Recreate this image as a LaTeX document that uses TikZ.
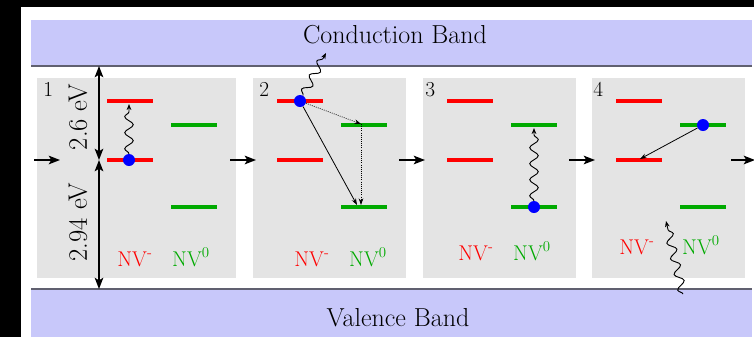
\documentclass[tikz,border=0pt]{standalone}
\usetikzlibrary{arrows.meta,decorations.pathmorphing}
\definecolor{bandc}{RGB}{200,200,250}
\definecolor{panelc}{RGB}{228,228,228}
\definecolor{lvgreen}{RGB}{0,170,0}
\definecolor{bandline}{RGB}{96,96,112}
\begin{document}
\begin{tikzpicture}[x=0.75pt,y=-0.75pt,
  redlvl/.style={fill=red,draw=none,minimum width=34.5pt,minimum height=2.3pt,inner sep=0pt,outer sep=0pt},
  grnlvl/.style={redlvl,fill=lvgreen},
  electron/.style={circle,fill=blue,inner sep=0pt,minimum size=9pt},
  flow/.style={-{Stealth[length=8.5pt,width=6.5pt,inset=2pt]},line width=1.1pt},
  gaparrow/.style={{Stealth[length=8.5pt,width=6.5pt,inset=2pt]}-{Stealth[length=8.5pt,width=6.5pt,inset=2pt]},line width=1.1pt},
  photon/.style={decorate,decoration={snake,amplitude=3.2pt,segment length=12pt,post length=4pt},-{Stealth[length=4.5pt,width=3.5pt]},line width=0.7pt},
  hop/.style={-{Stealth[length=5pt,width=3.5pt]},line width=0.6pt},
  dhop/.style={hop,densely dotted},
  bandtext/.style={font=\fontsize{19.5}{22}\selectfont,anchor=base},
  evtext/.style={font=\fontsize{20}{22}\selectfont,rotate=90},
  numtext/.style={font=\fontsize{16}{18}\selectfont,anchor=base west,inner sep=0pt},
  nvtext/.style={font=\fontsize{16}{18}\selectfont,anchor=base,inner sep=0pt},
  panel/.style={fill=panelc}
]
% background
\fill[black] (0,0) rectangle (754,337);
\fill[white] (21,7) rectangle (754,337);
\useasboundingbox (0,0) rectangle (754,337);

% bands
\fill[bandc] (31,20) rectangle (752,66);
\draw[bandline,line width=1.2pt] (31,66) -- (752,66);
\fill[bandc] (31,289) rectangle (752,337);
\draw[bandline,line width=1.2pt] (31,289) -- (752,289);
\node[bandtext] (cb) at (395,43) {Conduction Band};
\node[bandtext] (vb) at (398,326) {Valence Band};

% panels
\fill[panel] (37,78) rectangle (236,278);
\fill[panel] (253,78) rectangle (406,278);
\fill[panel] (423,78) rectangle (576,278);
\fill[panel] (592,78) rectangle (745,278);

% panel numbers
\node[numtext] (n1) at (43,96) {1};
\node[numtext] (n2) at (259,96) {2};
\node[numtext] (n3) at (425,96) {3};
\node[numtext] (n4) at (593,96) {4};

% energy levels
\node[redlvl] (r1u) at (130,101) {};
\node[redlvl] (r1l) at (130,160) {};
\node[grnlvl] (g1u) at (194,125) {};
\node[grnlvl] (g1l) at (194,207) {};
\node[redlvl] (r2u) at (300,101) {};
\node[redlvl] (r2l) at (300,160) {};
\node[grnlvl] (g2u) at (364,125) {};
\node[grnlvl] (g2l) at (364,207) {};
\node[redlvl] (r3u) at (470,101) {};
\node[redlvl] (r3l) at (470,160) {};
\node[grnlvl] (g3u) at (534,125) {};
\node[grnlvl] (g3l) at (534,207) {};
\node[redlvl] (r4u) at (639,101) {};
\node[redlvl] (r4l) at (639,160) {};
\node[grnlvl] (g4u) at (703,125) {};
\node[grnlvl] (g4l) at (703,207) {};

% labels
\node[nvtext,red] (m1) at (135,266) {NV\textsuperscript{-}};
\node[nvtext,lvgreen] (z1) at (191,266) {NV\textsuperscript{0}};
\node[nvtext,red] (m2) at (312,266) {NV\textsuperscript{-}};
\node[nvtext,lvgreen] (z2) at (368,266) {NV\textsuperscript{0}};
\node[nvtext,red] (m3) at (476,260) {NV\textsuperscript{-}};
\node[nvtext,lvgreen] (z3) at (532,260) {NV\textsuperscript{0}};
\node[nvtext,red] (m4) at (637,254) {NV\textsuperscript{-}};
\node[nvtext,lvgreen] (z4) at (701,254) {NV\textsuperscript{0}};

% gap arrows
\coordinate (gtop) at (99,66);
\coordinate (gmid) at (99,160);
\coordinate (gbot) at (99,289);
\draw[gaparrow] (gtop) -- (gmid);
\draw[gaparrow] (gmid) -- (gbot);
\node[evtext] (ev1) at (78,117) {2.6 eV};
\node[evtext] (ev2) at (78,222) {2.94 eV};

% flow arrows
\coordinate (a0s) at (34,160);  \coordinate (a0e) at (60,160);
\coordinate (a1s) at (230,160); \coordinate (a1e) at (256,160);
\coordinate (a2s) at (399,160); \coordinate (a2e) at (425,160);
\coordinate (a3s) at (569,160); \coordinate (a3e) at (595,160);
\coordinate (a4s) at (731,160); \coordinate (a4e) at (755,160);
\draw[flow] (a0s) -- (a0e);
\draw[flow] (a1s) -- (a1e);
\draw[flow] (a2s) -- (a2e);
\draw[flow] (a3s) -- (a3e);
\draw[flow] (a4s) -- (a4e);

% electrons
\node[electron] (e1) at (129,160) {};
\node[electron] (e2) at (300,101) {};
\node[electron] (e3) at (534,207) {};
\node[electron] (e4) at (703,125) {};

% panel 1
\coordinate (p1t) at (129,104);
\draw[photon] (e1) -- (p1t);

% panel 2
\coordinate (p2t) at (326,53);
\draw[photon] (e2) -- (p2t);
\coordinate (d2a) at (361,124);
\coordinate (d2b) at (361,205);
\coordinate (s2e) at (357,205);
\draw[dhop] (e2) -- (d2a);
\draw[dhop] (d2a) -- (d2b);
\draw[hop] (e2) -- (s2e);

% panel 3
\coordinate (p3t) at (534,128);
\draw[photon] (e3) -- (p3t);

% panel 4
\coordinate (s4e) at (640,159);
\draw[hop] (e4) -- (s4e);
\coordinate (p4s) at (683,294);
\coordinate (p4t) at (666,221);
\draw[photon] (p4s) -- (p4t);
\end{tikzpicture}
\end{document}
